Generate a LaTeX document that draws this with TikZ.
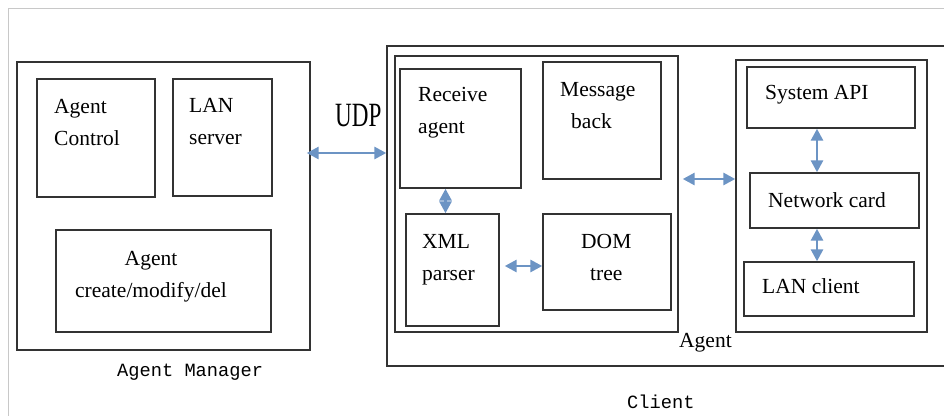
\documentclass[tikz,border=0pt]{standalone}
\usepackage{fontspec}
\setmainfont{Liberation Serif}
\setmonofont{Liberation Mono}
\usetikzlibrary{arrows.meta}
\definecolor{linkblue}{RGB}{108,148,196}
\definecolor{pageline}{RGB}{200,200,200}
\begin{document}
\begin{tikzpicture}[x=1pt,y=-1pt,
	box/.style={draw=black!80,line width=1.4pt,inner sep=0pt},
	link/.style={draw=linkblue,line width=2.8pt,{Triangle[length=12pt,width=12pt]}-{Triangle[length=12pt,width=12pt]}},
	txt/.style={inner sep=0pt,anchor=base west,align=left,font=\fontsize{21.5}{32}\selectfont},
	mono/.style={inner sep=0pt,anchor=base west,font=\fontsize{18.7}{20}\selectfont\ttfamily}]
	\useasboundingbox (0,0) rectangle (944,416);
	% page frame
	\draw [pageline,line width=0.6pt] (944,8) -- (8,8) -- (8,416);
	% agent manager
	\node[box,minimum width=293,minimum height=288] (mgr) at (163.5,206) {};
	\node[box,minimum width=118,minimum height=118] (ctrl) at (96,138) {};
	\node[box,minimum width=99,minimum height=117] (lans) at (222.5,137.5) {};
	\node[box,minimum width=215,minimum height=102] (crud) at (163.5,281) {};
	\node[txt] (ctrl-t) at (54,145) {Agent\\Control};
	\node[txt] (lans-t) at (189,144) {LAN\\server};
	\node[txt,align=center,anchor=base] (crud-t) at (151,297) {Agent\\create/modify/del};
	\node[mono] (mgr-t) at (117,376) {Agent Manager};
	% client
	\node[box,minimum width=573,minimum height=320] (client) at (673.5,206) {};
	\node[box,minimum width=283,minimum height=276] (agent) at (536.5,194) {};
	\node[box,minimum width=121,minimum height=119] (recv) at (460.5,128.5) {};
	\node[box,minimum width=118,minimum height=117] (msg) at (602,120.5) {};
	\node[box,minimum width=93,minimum height=112] (xml) at (452.5,270) {};
	\node[box,minimum width=128,minimum height=96] (dom) at (607,262) {};
	\node[txt] (recv-t) at (418,133) {Receive\\agent};
	\node[txt] (msg-t) at (560,128) {Message\\\hspace*{11pt}back};
	\node[txt] (xml-t) at (422,280) {XML\\parser};
	\node[txt] (dom-t) at (581,280) {DOM\\\hspace*{9pt}tree};
	\node[txt] (agent-t) at (679,347) {Agent};
	\node[box,minimum width=191,minimum height=272] (sys) at (831.5,196) {};
	\node[box,minimum width=168,minimum height=61] (api) at (831,97.5) {};
	\node[box,minimum width=169,minimum height=55] (nic) at (834.5,200.5) {};
	\node[box,minimum width=170,minimum height=54] (lanc) at (829,289) {};
	\node[txt] (api-t) at (765,99) {System API};
	\node[txt] (nic-t) at (768,207) {Network card};
	\node[txt] (lanc-t) at (762,293) {LAN client};
	\node[mono] (client-t) at (627,408) {Client};
	% links
	\node[inner sep=0pt,anchor=base west] (udp) at (335,126) {\scalebox{0.68}[1]{\fontsize{34}{34}\selectfont UDP}};
	\draw[link] ([xshift=-4pt,yshift=53pt]mgr.east) -- ([yshift=53pt]client.west);
	\draw[link] ([xshift=-15pt]recv.south) -- ([xshift=-15pt]recv.south |- xml.north);
	\draw[link] ([xshift=5pt,yshift=4pt]xml.east) -- ([yshift=4pt]xml.east -| dom.west);
	\draw[link] ([xshift=4pt,yshift=15pt]agent.east) -- ([yshift=15pt]agent.east -| sys.west);
	\draw[link] ([xshift=-14pt]api.south) -- ([xshift=-14pt]api.south |- nic.north);
	\draw[link] ([xshift=-17.5pt]nic.south) -- ([xshift=-17.5pt]nic.south |- lanc.north);
\end{tikzpicture}
\end{document}
